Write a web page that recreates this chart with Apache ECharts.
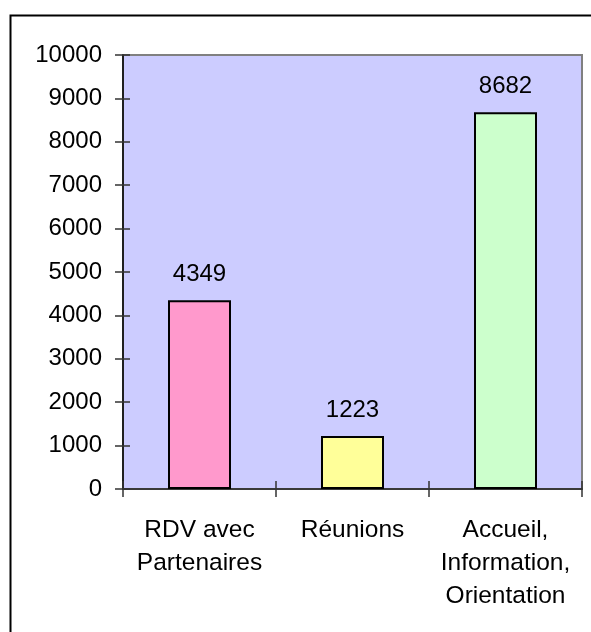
<!DOCTYPE html>
<html><head><meta charset="utf-8">
<script src="https://cdn.jsdelivr.net/npm/echarts@6/dist/echarts.min.js"></script>
<style>html,body{margin:0;padding:0;background:#fff;}#c{width:591px;height:632px;}</style>
</head><body><div id="c"></div>
<script>
var categories = ['RDV avec\nPartenaires', 'Réunions', 'Accueil,\nInformation,\nOrientation'];
var values = [4349, 1223, 8682];
var barColors = ['#FF99CC', '#FFFF99', '#CCFFCC'];
var yTicks = [0, 1000, 2000, 3000, 4000, 5000, 6000, 7000, 8000, 9000, 10000];

var font = 'Liberation Sans, Arial, sans-serif';
var chart = echarts.init(document.getElementById('c'));
var gridW = 591 - 123 - 9, gridH = 632 - 55 - 143;
chart.setOption({
  animation: false,
  graphic: [{type: 'rect', left: 8, top: 13, shape: {x: 0, y: 0, width: 700, height: 700}, style: {fill: 'none', stroke: '#000', lineWidth: 2}, z: 100}],
  grid: {left: 123, top: 55, right: 9, bottom: 143, show: true, backgroundColor: '#CCCCFF', borderColor: '#808080', borderWidth: 2},
  xAxis: [{
    type: 'category', data: categories, position: 'bottom',
    axisLine: {lineStyle: {color: '#222', width: 1.5}},
    axisTick: {show: true, length: 8, lineStyle: {color: '#333', width: 1.5}},
    axisLabel: {color: '#000', fontSize: 24.5, fontFamily: font, lineHeight: 33, margin: 25, interval: 0}
  }, {
    type: 'category', data: categories, position: 'top', offset: -gridH,
    axisLine: {show: false},
    axisTick: {show: true, length: 8, lineStyle: {color: '#333', width: 1.5}},
    axisLabel: {show: false}
  }],
  yAxis: [{
    type: 'value', min: yTicks[0], max: yTicks[yTicks.length - 1], interval: 1000, position: 'left',
    axisLine: {show: true, lineStyle: {color: '#000', width: 1.5}},
    axisTick: {show: true, length: 8, lineStyle: {color: '#333', width: 1.5}},
    splitLine: {show: false},
    axisLabel: {color: '#000', fontSize: 24, fontFamily: font, margin: 21, formatter: function (v) { return String(v); }}
  }, {
    type: 'value', min: yTicks[0], max: yTicks[yTicks.length - 1], interval: 1000, position: 'right', offset: -gridW,
    axisLine: {show: false},
    axisTick: {show: true, length: 7, lineStyle: {color: '#333', width: 1.5}},
    splitLine: {show: false},
    axisLabel: {show: false}
  }],
  series: [{
    type: 'bar', data: values.map(function (v, i) { return {value: v, itemStyle: {color: barColors[i]}}; }),
    barWidth: 63,
    itemStyle: {borderColor: '#000', borderWidth: 2},
    label: {show: true, position: 'top', distance: 14, color: '#000', fontSize: 24, fontFamily: font}
  }]
});
</script></body></html>
